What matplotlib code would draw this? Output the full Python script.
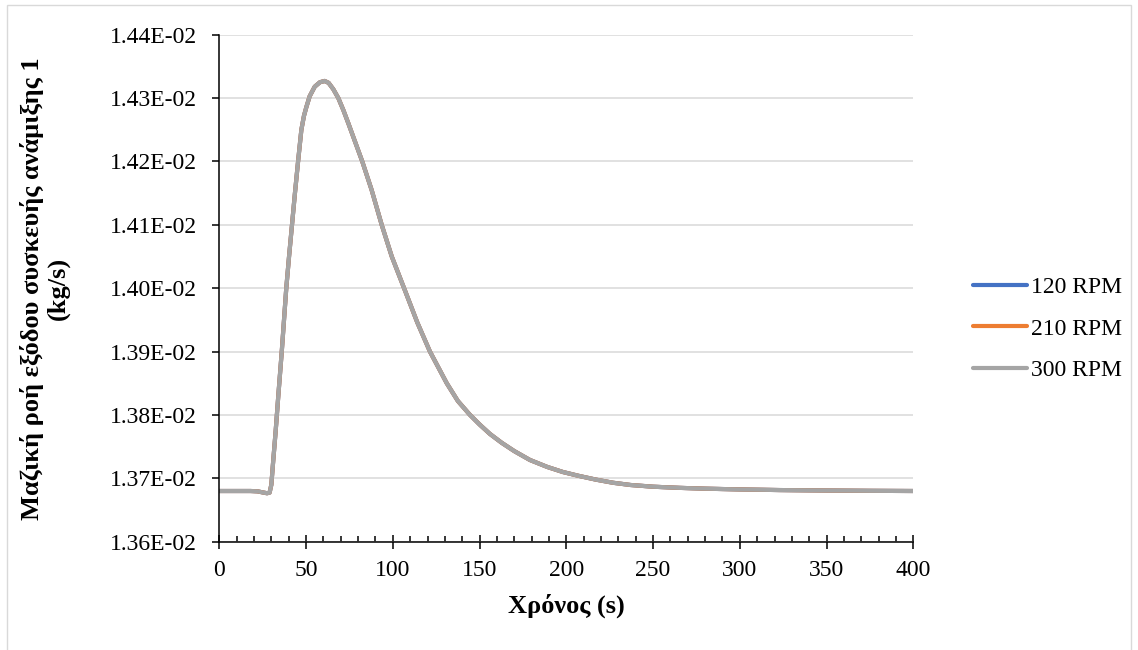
import matplotlib
matplotlib.use("Agg")
import matplotlib.pyplot as plt
from matplotlib.ticker import FuncFormatter, MultipleLocator
from matplotlib.patches import Rectangle

plt.rcParams['font.family'] = ['Liberation Serif', 'DejaVu Serif']

# time (s) and mixer-1 outlet mass flow (kg/s)
time_s = [0, 10, 18, 22, 25, 27.5, 29, 30, 31, 32.5, 34, 36, 38.6, 40.2, 41.9,
          43.6, 45.4, 47.3, 48.8, 50.2, 52.1, 55, 58, 60.7, 63, 65.7, 68.6,
          71.5, 74.4, 78.4, 82.4, 87.8, 93.6, 99.4, 106.5, 114.1, 121.4,
          131.1, 137.5, 144.5, 150, 156, 162.8, 170, 179, 189, 198, 207, 217,
          227, 237, 250, 265, 280, 300, 323, 350, 375, 400]
flow_120 = [1.3680e-2, 1.3680e-2, 1.3680e-2, 1.36795e-2, 1.36778e-2, 1.36765e-2,
            1.36775e-2, 1.3690e-2, 1.3725e-2, 1.3775e-2, 1.3830e-2, 1.3900e-2,
            1.4000e-2, 1.4050e-2, 1.4100e-2, 1.4150e-2, 1.4200e-2, 1.4250e-2,
            1.4272e-2, 1.4286e-2, 1.4303e-2, 1.4318e-2, 1.4325e-2, 1.4327e-2,
            1.4324e-2, 1.4314e-2, 1.4300e-2, 1.4281e-2, 1.4260e-2, 1.4230e-2,
            1.4200e-2, 1.4155e-2, 1.4100e-2, 1.4050e-2, 1.4000e-2, 1.3946e-2,
            1.3900e-2, 1.3850e-2, 1.3822e-2, 1.3800e-2, 1.3785e-2, 1.3770e-2,
            1.3756e-2, 1.3743e-2, 1.3729e-2, 1.3718e-2, 1.3710e-2, 1.3704e-2,
            1.3698e-2, 1.3693e-2, 1.36895e-2, 1.36868e-2, 1.36850e-2,
            1.36837e-2, 1.36825e-2, 1.36815e-2, 1.36808e-2, 1.36803e-2,
            1.3680e-2]
flow_210 = list(flow_120)
flow_300 = list(flow_120)

series = [("120 RPM", flow_120, "#4472C4"),
          ("210 RPM", flow_210, "#ED7D31"),
          ("300 RPM", flow_300, "#A5A5A5")]

fig = plt.figure(figsize=(11.38, 6.5), dpi=100)
ax = fig.add_axes([0.1927, 0.1666, 0.6099, 0.78])

for name, vals, col in series:
    ax.plot(time_s, vals, color=col, lw=3.0, label=name,
            solid_capstyle='round', solid_joinstyle='round')

ax.set_xlim(0, 400)
ax.set_ylim(1.36e-2, 1.44e-2)
ax.xaxis.set_major_locator(MultipleLocator(50))
ax.xaxis.set_minor_locator(MultipleLocator(10))
ax.yaxis.set_major_locator(MultipleLocator(0.0001))
ax.yaxis.set_major_formatter(FuncFormatter(lambda v, p: f"{v:.2E}"))

ax.grid(axis='y', color='#D9D9D9', lw=1.1)
ax.set_axisbelow(True)
for s in ('top', 'right'):
    ax.spines[s].set_visible(False)
for s in ('left', 'bottom'):
    ax.spines[s].set_linewidth(1.1)
    ax.spines[s].set_zorder(5)

ax.tick_params(axis='y', which='major', direction='out', length=5, width=1.1,
               labelsize=17, pad=11)
ax.tick_params(axis='x', which='major', direction='inout', length=10, width=1.1,
               labelsize=17, pad=8)
ax.tick_params(axis='x', which='minor', direction='in', length=4, width=1.1)

ax.set_xlabel("Χρόνος (s)", fontsize=19, fontweight='bold', labelpad=9)
ax.set_ylabel("Μαζική ροή εξόδου συσκευής ανάμιξης 1\n(kg/s)", fontsize=19,
              fontweight='bold', linespacing=1.15)
ax.yaxis.set_label_coords(-0.215, 0.5)

ax.legend(loc='center left', bbox_to_anchor=(0.836, 0.494),
          bbox_transform=fig.transFigure, frameon=False, fontsize=17,
          handlelength=2.3, handletextpad=0.17, labelspacing=0.85)

# chart area border
fig.patches.append(Rectangle((7 / 1138, -0.01), 1124 / 1138, 1.0 - 5 / 650 + 0.01,
                             transform=fig.transFigure, fill=False,
                             edgecolor='#D9D9D9', lw=1.0))

fig.savefig("out.png", dpi=100)
